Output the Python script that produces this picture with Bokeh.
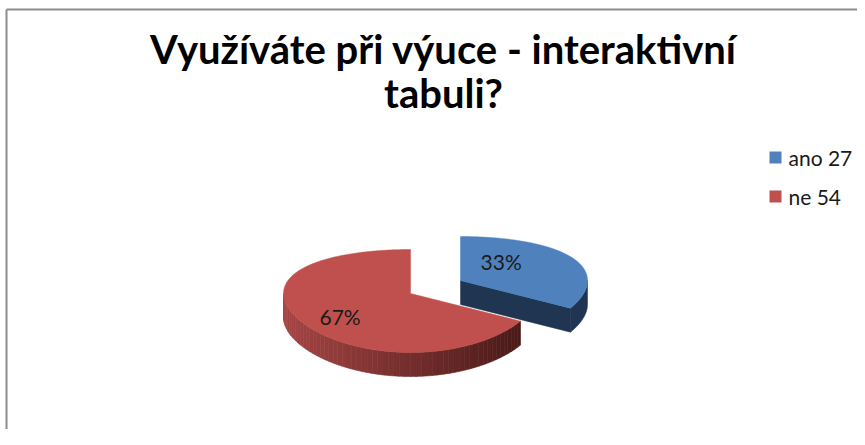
import numpy as np
from bokeh.plotting import figure
from bokeh.models import Range1d
from bokeh.core.properties import value
from bokeh.embed import file_html
from bokeh.resources import INLINE

# ---- data ----
categories = ["ano", "ne"]
counts = [27, 54]
title_lines = ["Využíváte při výuce - interaktivní", "tabuli?"]
top_colors = ["#4f81bd", "#c0504d"]

# ---- layout / style constants (pixel coords) ----
W, H = 857, 429
cx, cy = 410, 293          # centre of main pie
rx, ry_a, ry_b = 127, 51.5, 7.5
depth = 24
explode_off = {"ano": (50, -13), "ne": (0, 0)}
label_r = {"ano": 0.37, "ne": 0.64}
label_dy = {"ano": -10, "ne": 6}
FONT = "Lato"

p = figure(width=W, height=H, output_backend="svg", toolbar_location=None,
           x_range=Range1d(0, W), y_range=Range1d(H, 0),
           min_border=0, min_border_left=0, min_border_right=0,
           min_border_top=0, min_border_bottom=0)
p.axis.visible = False
p.grid.visible = False
p.outline_line_color = None
p.background_fill_color = "white"
p.border_fill_color = "white"


def rim(t, c):
    s = np.sin(t)
    return c[0] + rx * np.cos(t), c[1] - ry_a * s + ry_b * s * s


def hexmix(c1, c2, f):
    a = [int(c1[i:i + 2], 16) for i in (1, 3, 5)]
    b = [int(c2[i:i + 2], 16) for i in (1, 3, 5)]
    m = [round(a[k] + (b[k] - a[k]) * f) for k in range(3)]
    return "#%02x%02x%02x" % tuple(m)


total = sum(counts)
fracs = [v / total for v in counts]
# slices go clockwise from 12 o'clock; each covers math angles lo..hi (ccw)
angles = {}
a0 = np.pi / 2
for cat, f in zip(categories, fracs):
    a1 = a0 - 2 * np.pi * f
    angles[cat] = (a1, a0)
    a0 = a1

# ---- border (top & left) ----
p.line([6, 6], [H + 5, 9], line_color="#8c8c8c", line_width=2)
p.line([6, W + 5], [9, 9], line_color="#8c8c8c", line_width=2)

side_dark = "#1f3552"
# far slice (ano) first, then near slice (ne)
for cat in ["ano", "ne"]:
    idx = categories.index(cat)
    lo, hi = angles[cat]
    c = (cx + explode_off[cat][0], cy + explode_off[cat][1])
    if cat == "ano":
        # radial face along the lower edge
        rx0, ry0 = rim(lo, c)
        p.patch([c[0], rx0, rx0, c[0]],
                [c[1], ry0, ry0 + depth, c[1] + depth],
                fill_color=side_dark, line_color=side_dark, line_width=0.5)
        # curved outer side, visible part lo..0
        tt = np.linspace(lo, 0, 60)
        sx, sy = rim(tt, c)
        p.patch(np.concatenate([sx, sx[::-1]]),
                np.concatenate([sy, (sy + depth)[::-1]]),
                fill_color=side_dark, line_color=side_dark, line_width=0.5)
    else:
        # curved front side, visible part from 180deg (=-pi) to hi
        edges = np.linspace(-np.pi, hi, 61)
        x0s, _ = rim(edges, c)
        xmin, xmax = x0s.min(), x0s.max()
        for i in range(len(edges) - 1):
            tt = np.linspace(edges[i], edges[i + 1], 4)
            sx, sy = rim(tt, c)
            f = (sx.mean() - xmin) / (xmax - xmin)
            col = hexmix("#a44544", "#4a1a19", f)
            p.patch(np.concatenate([sx, sx[::-1]]),
                    np.concatenate([sy, (sy + depth)[::-1]]),
                    fill_color=col, line_color=col, line_width=0.6)
    ts = np.linspace(lo, hi, 300)
    tx, ty = rim(ts, c)
    p.patch(np.concatenate([[c[0]], tx]), np.concatenate([[c[1]], ty]),
            fill_color=top_colors[idx], line_color=top_colors[idx],
            line_width=0.5)

# ---- percentage labels ----
for cat in categories:
    idx = categories.index(cat)
    lo, hi = angles[cat]
    mid = (lo + hi) / 2
    c = (cx + explode_off[cat][0], cy + explode_off[cat][1])
    r = label_r[cat]
    lx = c[0] + r * rx * np.cos(mid)
    ly = (c[1] - r * ry_a * np.sin(mid) + ry_b * (r * np.sin(mid)) ** 2
          + label_dy[cat])
    pct = "%d%%" % round(100 * fracs[idx])
    p.text([lx], [ly], text=[pct], text_align="center",
           text_baseline="middle", text_font=value(FONT),
           text_font_size="21px", text_color="#1a1a1a")

# ---- title ----
for i, line in enumerate(title_lines):
    p.text([443], [48 + 44 * i], text=[line], text_align="center",
           text_baseline="middle", text_font=value(FONT),
           text_font_style="bold", text_font_size="40px", text_color="black")

# ---- legend ----
for i, cat in enumerate(categories):
    yy = 157 + 39 * i
    p.rect([775], [yy], width=12, height=12,
           fill_color=top_colors[i], line_color=None)
    p.text([788], [yy], text=["%s %d" % (cat, counts[i])],
           text_align="left", text_baseline="middle",
           text_font=value(FONT), text_font_size="21px", text_color="#1a1a1a")

open("out.html", "w").write(file_html(p, INLINE))
